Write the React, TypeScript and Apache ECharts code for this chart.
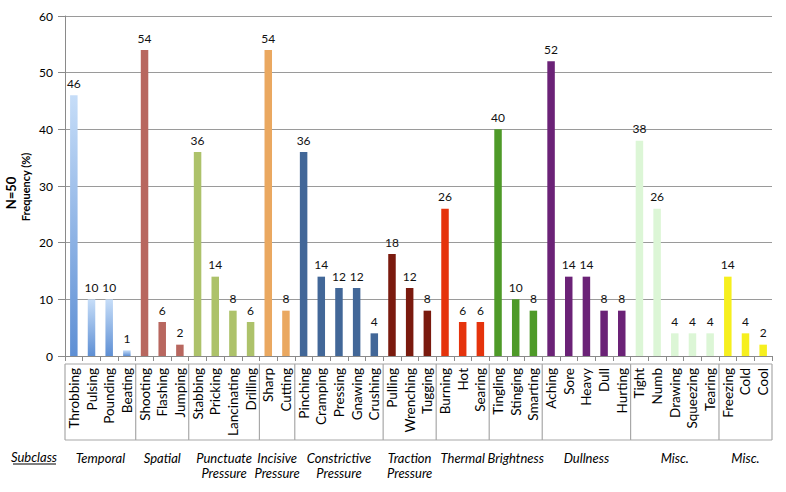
import React, { useEffect, useRef } from "react";
import * as echarts from "echarts";

const categories = [
  "Throbbing", "Pulsing", "Pounding", "Beating",
  "Shooting", "Flashing", "Jumping",
  "Stabbing", "Pricking", "Lancinating", "Drilling",
  "Sharp", "Cutting",
  "Pinching", "Cramping", "Pressing", "Gnawing", "Crushing",
  "Pulling", "Wrenching", "Tugging",
  "Burning", "Hot", "Searing",
  "Tingling", "Stinging", "Smarting",
  "Aching", "Sore", "Heavy", "Dull", "Hurting",
  "Tight", "Numb", "Drawing", "Squeezing", "Tearing",
  "Freezing", "Cold", "Cool",
];

const values = [
  46, 10, 10, 1,
  54, 6, 2,
  36, 14, 8, 6,
  54, 8,
  36, 14, 12, 12, 4,
  18, 12, 8,
  26, 6, 6,
  40, 10, 8,
  52, 14, 14, 8, 8,
  38, 26, 4, 4, 4,
  14, 4, 2,
];

const groupNames = [
  "Temporal", "Spatial", "Punctuate\nPressure", "Incisive\nPressure",
  "Constrictive\nPressure", "Traction\nPressure", "Thermal", "Brightness",
  "Dullness", "Misc.", "Misc.",
];
const groupCounts = [4, 3, 4, 2, 5, 3, 3, 3, 5, 5, 3];

const yMin = 0;
const yMax = 60;
const yInterval = 10;

const groupColors: any[] = [
  new echarts.graphic.LinearGradient(0, 0, 0, 1, [
    { offset: 0, color: "#c6ddf8" },
    { offset: 1, color: "#5e8fd4" },
  ]),
  "#b8675f",
  "#adc26a",
  "#eaa860",
  "#426798",
  "#7a1a0e",
  "#e5330c",
  "#4e9a28",
  "#6b2277",
  "#dcf6d6",
  "#f6ef1e",
];

export default function App() {
  const ref = useRef<HTMLDivElement>(null);
  useEffect(() => {
    document.body.style.margin = "0";
    const chart = echarts.init(ref.current!, null, { renderer: "svg" });
    const groupOf: number[] = [];
    groupCounts.forEach((c, g) => {
      for (let i = 0; i < c; i++) groupOf.push(g);
    });
    const font = "Lato, 'Open Sans', sans-serif";
    chart.setOption({
      animation: false,
      backgroundColor: "#ffffff",
      grid: { left: 65, right: 14, top: 16, bottom: 136, containLabel: false },
      xAxis: {
        type: "category",
        data: categories,
        axisLine: { lineStyle: { color: "#8a8a8a", width: 1 } },
        axisTick: { show: true, length: 5, lineStyle: { color: "#8a8a8a" } },
        axisLabel: {
          rotate: 90,
          interval: 0,
          margin: 12,
          fontSize: 13.5,
          color: "#000",
          fontFamily: font,
        },
      },
      yAxis: {
        type: "value",
        min: yMin,
        max: yMax,
        interval: yInterval,
        axisLine: { show: true, lineStyle: { color: "#8a8a8a" } },
        axisTick: { show: true, length: 7, lineStyle: { color: "#8a8a8a" } },
        splitLine: { lineStyle: { color: "#9a9a9a", width: 1 } },
        axisLabel: { fontSize: 12, color: "#000", margin: 12, fontFamily: font },
      },
      series: [
        {
          type: "bar",
          barWidth: 7.5,
          data: values.map((v, i) => ({
            value: v,
            itemStyle: { color: groupColors[groupOf[i]] },
          })),
          label: {
            show: true,
            position: "top",
            distance: 6,
            fontSize: 12,
            color: "#111",
            fontFamily: font,
          },
        },
      ],
    });

    const xA = chart.convertToPixel({ xAxisIndex: 0 }, categories[0]) as number;
    const xB = chart.convertToPixel({ xAxisIndex: 0 }, categories[1]) as number;
    const bw = xB - xA;
    const y0 = chart.convertToPixel({ yAxisIndex: 0 }, 0) as number;
    const boxTop = y0 + 8;
    const boxBottom = y0 + 84;
    const left = xA - bw / 2;
    const right = (chart.convertToPixel({ xAxisIndex: 0 }, categories[categories.length - 1]) as number) + bw / 2;
    const lineStyle = { stroke: "#a8a8a8", lineWidth: 1.2 };
    const graphics: any[] = [
      { type: "line", shape: { x1: left, y1: boxTop, x2: right, y2: boxTop }, style: lineStyle, silent: true },
      { type: "line", shape: { x1: left, y1: boxBottom, x2: right, y2: boxBottom }, style: lineStyle, silent: true },
    ];
    let start = 0;
    const bounds: number[] = [left];
    groupCounts.forEach((c, g) => {
      const end = start + c;
      const bx = xA + (end - 0.5) * bw;
      bounds.push(bx);
      const cx = xA + ((start + end - 1) / 2) * bw;
      graphics.push({
        type: "text",
        x: cx,
        y: y0 + 94,
        silent: true,
        style: {
          text: groupNames[g],
          textAlign: "center",
          textVerticalAlign: "top",
          fontSize: 13,
          fontStyle: "italic",
          lineHeight: 15,
          fill: "#000",
          fontFamily: font,
        },
      });
      start = end;
    });
    bounds.forEach((bx) => {
      graphics.push({ type: "line", shape: { x1: bx, y1: boxTop, x2: bx, y2: boxBottom }, style: lineStyle, silent: true });
    });
    graphics.push({
      type: "text",
      x: 34,
      y: y0 + 101,
      silent: true,
      style: {
        text: "Subclass",
        textAlign: "center",
        textVerticalAlign: "middle",
        fontSize: 13,
        fontStyle: "italic",
        fill: "#000",
        fontFamily: font,
      },
    });
    graphics.push({
      type: "line",
      shape: { x1: 13, y1: y0 + 108, x2: 56, y2: y0 + 108 },
      style: { stroke: "#000", lineWidth: 1 },
      silent: true,
    });
    graphics.push({
      type: "text",
      x: 11,
      y: 193,
      rotation: Math.PI / 2,
      silent: true,
      style: {
        text: "N=50",
        textAlign: "center",
        textVerticalAlign: "middle",
        fontSize: 13,
        fontWeight: "bold",
        fill: "#000",
        fontFamily: font,
      },
    });
    graphics.push({
      type: "text",
      x: 25,
      y: 187,
      rotation: Math.PI / 2,
      silent: true,
      style: {
        text: "Frequency (%)",
        textAlign: "center",
        textVerticalAlign: "middle",
        fontSize: 11,
        fontWeight: "bold",
        fill: "#000",
        fontFamily: font,
      },
    });
    chart.setOption({ graphic: graphics });
    return () => chart.dispose();
  }, []);
  return <div ref={ref} style={{ width: 786, height: 492 }} />;
}
